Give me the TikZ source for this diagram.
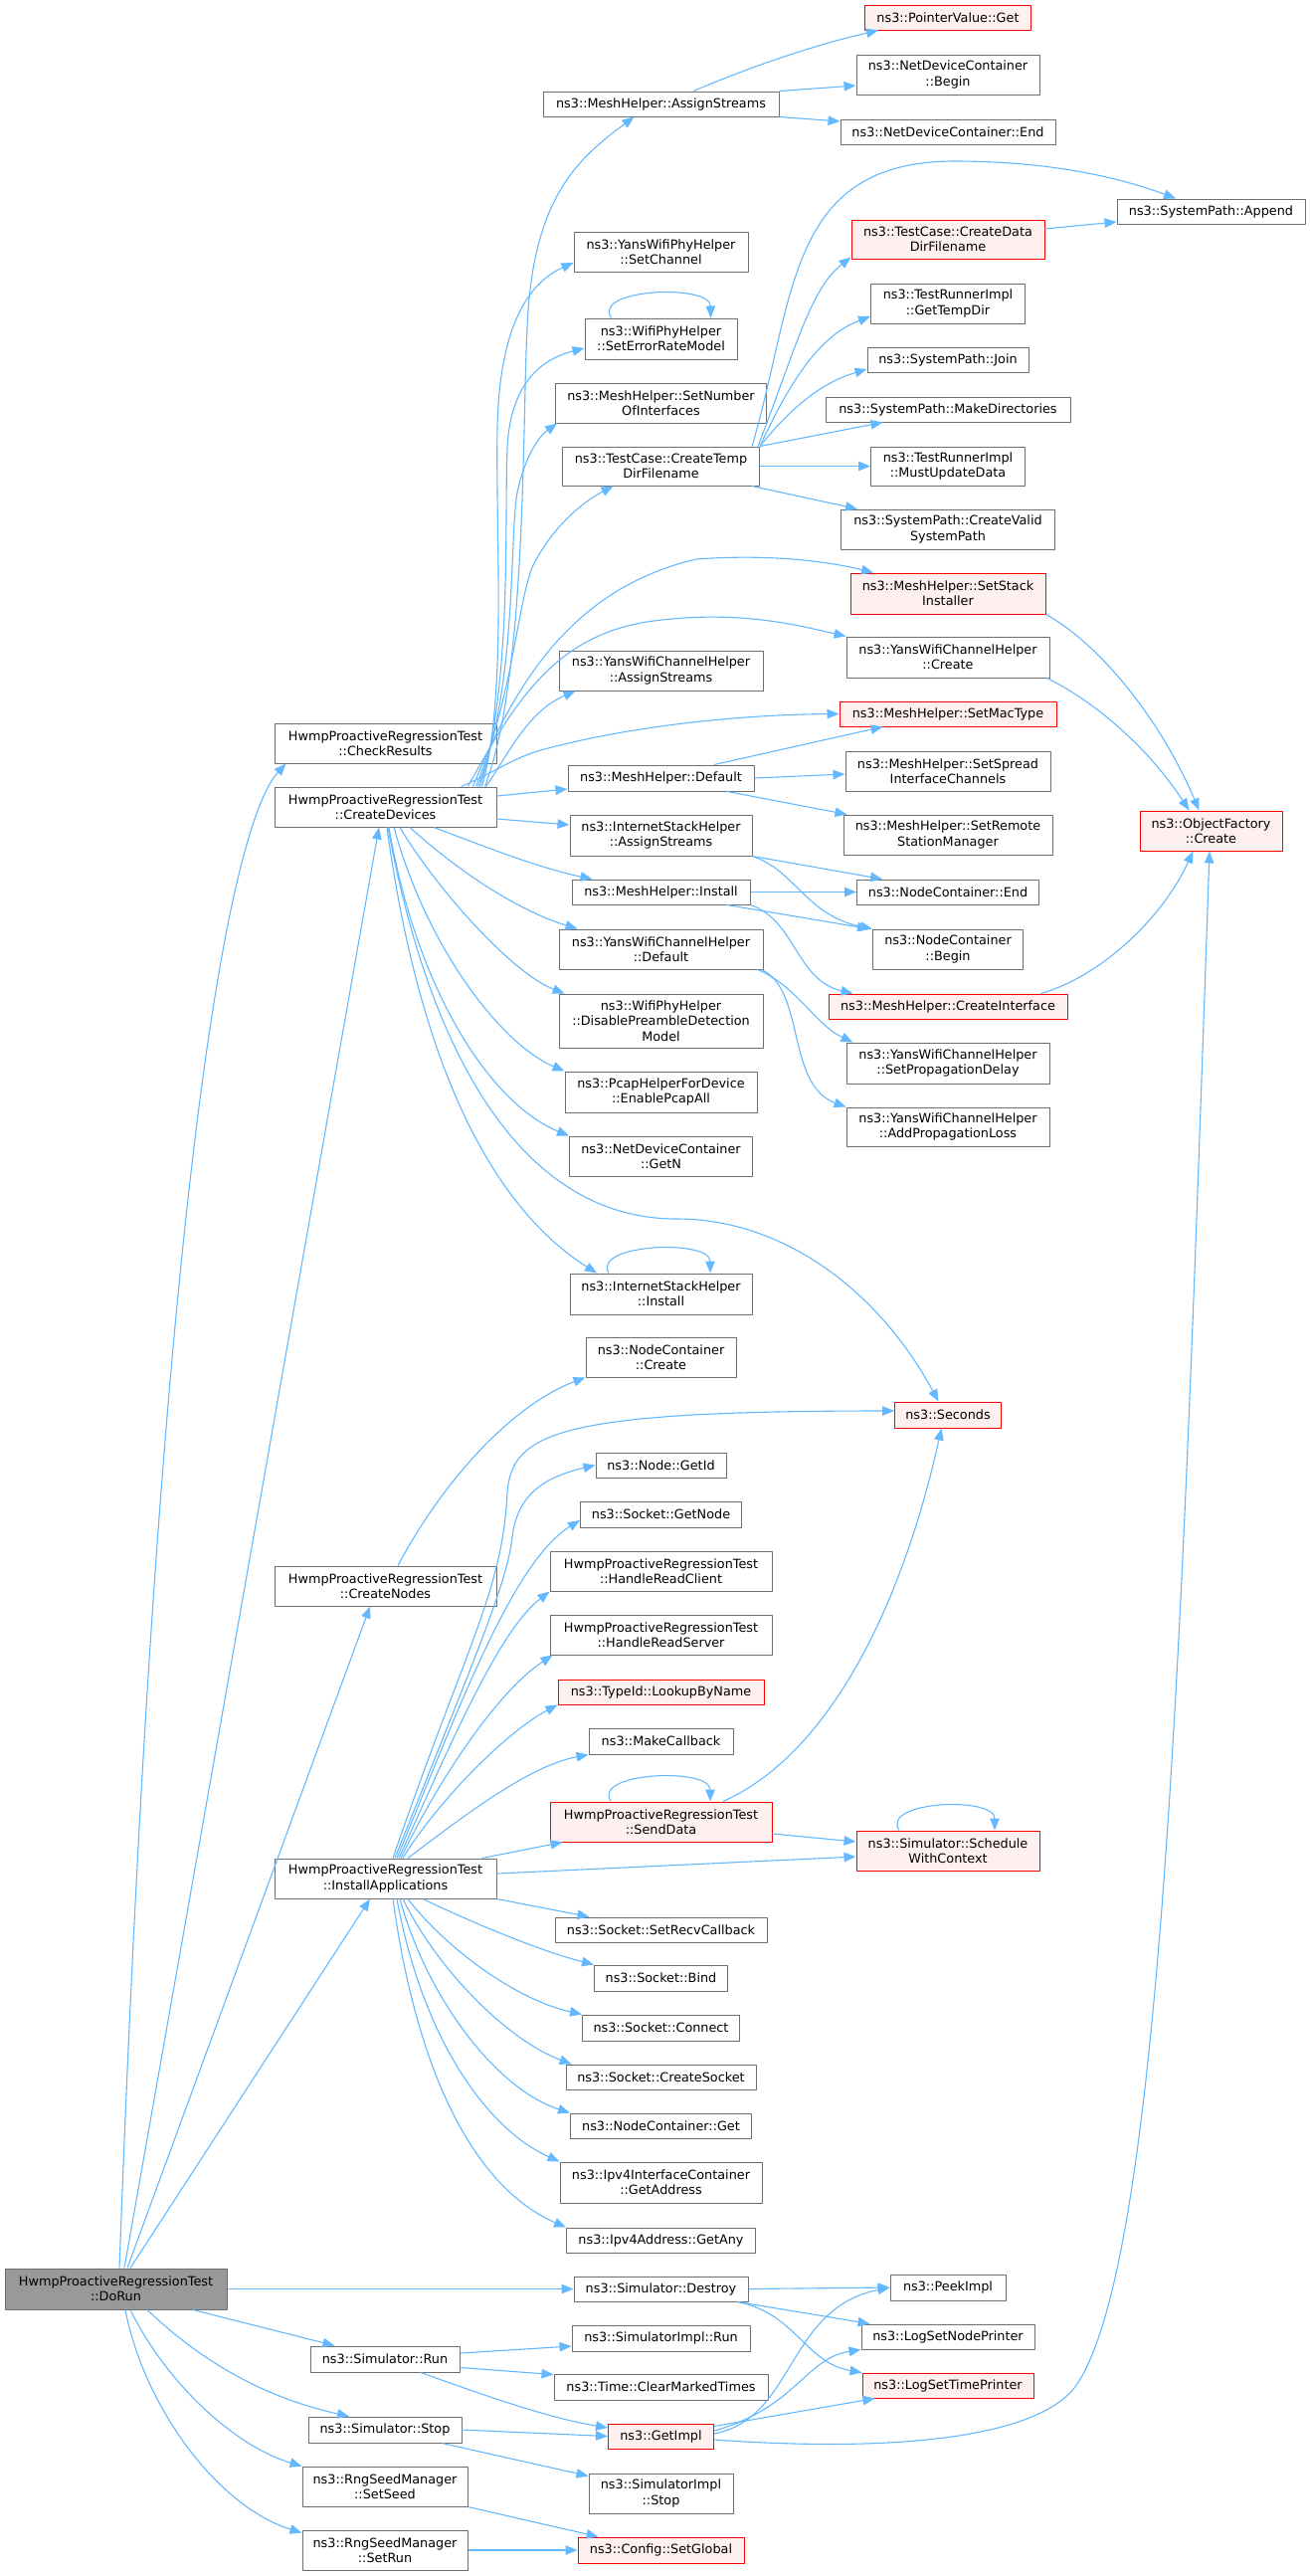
\documentclass[tikz,border=0pt]{standalone}
\usepackage{fontspec}
\usepackage{xcolor}
\usetikzlibrary{arrows.meta}
\newfontfamily\graphfont{DejaVu Sans}
\definecolor{edgeblue}{RGB}{99,184,255}
\definecolor{boxgray}{RGB}{110,110,110}
\definecolor{redfill}{RGB}{255,240,240}
\definecolor{rootgray}{RGB}{153,153,153}

\begin{document}
\begin{tikzpicture}[x=1pt, y=-1pt, line join=bevel,
        fnnode/.style={shape=rectangle, draw=boxgray, fill=white, line width=1pt, inner sep=0pt, align=center, font={\graphfont\fontsize{12.8}{15.3}\selectfont}},
        rednode/.style={fnnode, draw=red, fill=redfill},
        rootnode/.style={fnnode, fill=rootgray},
        call/.style={draw=edgeblue, line width=1.1pt, -{Triangle[length=12pt,width=9.5pt]}}]
        \useasboundingbox (0,0) rectangle (1317,2589);
        % Caller and its direct callees
        \node[rootnode, minimum width=223, minimum height=41] (doRun) at (116.5,2300.5) {HwmpProactiveRegressionTest\\::DoRun};
        \node[fnnode, minimum width=223, minimum height=40] (checkResults) at (387.5,747) {HwmpProactiveRegressionTest\\::CheckResults};
        \node[fnnode, minimum width=223, minimum height=40] (createDevices) at (387.5,811) {HwmpProactiveRegressionTest\\::CreateDevices};
        \node[fnnode, minimum width=223, minimum height=40] (createNodes) at (387.5,1594) {HwmpProactiveRegressionTest\\::CreateNodes};
        \node[fnnode, minimum width=223, minimum height=40] (installApps) at (387.5,1888) {HwmpProactiveRegressionTest\\::InstallApplications};
        \node[fnnode, minimum width=150, minimum height=26] (simRun) at (387,2371) {ns3::Simulator::Run};
        \node[fnnode, minimum width=154, minimum height=26] (simStop) at (387,2442) {ns3::Simulator::Stop};
        \node[fnnode, minimum width=166, minimum height=40] (setSeed) at (387,2499) {ns3::RngSeedManager\\::SetSeed};
        \node[fnnode, minimum width=166, minimum height=40] (setRun) at (387,2563) {ns3::RngSeedManager\\::SetRun};
        % Second level
        \node[fnnode, minimum width=237, minimum height=25] (meshAssign) at (664.5,104.5) {ns3::MeshHelper::AssignStreams};
        \node[fnnode, minimum width=175, minimum height=40] (setChannel) at (664.5,253) {ns3::YansWifiPhyHelper\\::SetChannel};
        \node[fnnode, minimum width=153, minimum height=41] (setErrorModel) at (664.5,340.5) {ns3::WifiPhyHelper\\::SetErrorRateModel};
        \node[fnnode, minimum width=212, minimum height=40] (setNumIfaces) at (664.5,405) {ns3::MeshHelper::SetNumber\\OfInterfaces};
        \node[fnnode, minimum width=198, minimum height=39] (createTempDir) at (664.5,468.5) {ns3::TestCase::CreateTemp\\DirFilename};
        \node[fnnode, minimum width=205, minimum height=40] (yansAssign) at (664.5,674) {ns3::YansWifiChannelHelper\\::AssignStreams};
        \node[fnnode, minimum width=187, minimum height=26] (meshDefault) at (664.5,782) {ns3::MeshHelper::Default};
        \node[fnnode, minimum width=183, minimum height=41] (inetAssign) at (664.5,839.5) {ns3::InternetStackHelper\\::AssignStreams};
        \node[fnnode, minimum width=179, minimum height=25] (meshInstall) at (664.5,896.5) {ns3::MeshHelper::Install};
        \node[fnnode, minimum width=205, minimum height=40] (yansDefault) at (664.5,954) {ns3::YansWifiChannelHelper\\::Default};
        \node[fnnode, minimum width=205, minimum height=54] (disablePreamble) at (664.5,1026) {ns3::WifiPhyHelper\\::DisablePreambleDetection\\Model};
        \node[fnnode, minimum width=193, minimum height=41] (enablePcap) at (664.5,1097.5) {ns3::PcapHelperForDevice\\::EnablePcapAll};
        \node[fnnode, minimum width=184, minimum height=40] (getN) at (664.5,1162) {ns3::NetDeviceContainer\\::GetN};
        \node[fnnode, minimum width=183, minimum height=41] (inetInstall) at (664.5,1300.5) {ns3::InternetStackHelper\\::Install};
        \node[fnnode, minimum width=151, minimum height=40] (nodesCreate) at (664.5,1364) {ns3::NodeContainer\\::Create};
        \node[fnnode, minimum width=131, minimum height=25] (getId) at (664.5,1472.5) {ns3::Node::GetId};
        \node[fnnode, minimum width=162, minimum height=26] (getNode) at (664.5,1522) {ns3::Socket::GetNode};
        \node[fnnode, minimum width=223, minimum height=40] (readClient) at (664.5,1579) {HwmpProactiveRegressionTest\\::HandleReadClient};
        \node[fnnode, minimum width=223, minimum height=40] (readServer) at (664.5,1643) {HwmpProactiveRegressionTest\\::HandleReadServer};
        \node[rednode, minimum width=207, minimum height=25] (lookupByName) at (664.5,1700.5) {ns3::TypeId::LookupByName};
        \node[fnnode, minimum width=145, minimum height=26] (makeCallback) at (664.5,1750) {ns3::MakeCallback};
        \node[rednode, minimum width=223, minimum height=40] (sendData) at (664.5,1831) {HwmpProactiveRegressionTest\\::SendData};
        \node[fnnode, minimum width=213, minimum height=25] (setRecvCb) at (664.5,1939.5) {ns3::Socket::SetRecvCallback};
        \node[fnnode, minimum width=134, minimum height=26] (bind) at (664.5,1988) {ns3::Socket::Bind};
        \node[fnnode, minimum width=158, minimum height=26] (connect) at (664.5,2038) {ns3::Socket::Connect};
        \node[fnnode, minimum width=191, minimum height=25] (createSocket) at (664.5,2087.5) {ns3::Socket::CreateSocket};
        \node[fnnode, minimum width=182, minimum height=25] (ncGet) at (664.5,2136.5) {ns3::NodeContainer::Get};
        \node[fnnode, minimum width=203, minimum height=41] (getAddress) at (664.5,2193.5) {ns3::Ipv4InterfaceContainer\\::GetAddress};
        \node[fnnode, minimum width=190, minimum height=25] (getAny) at (664.5,2251.5) {ns3::Ipv4Address::GetAny};
        \node[fnnode, minimum width=175, minimum height=25] (destroy) at (664.5,2300.5) {ns3::Simulator::Destroy};
        \node[fnnode, minimum width=179, minimum height=26] (implRun) at (664.5,2350) {ns3::SimulatorImpl::Run};
        \node[fnnode, minimum width=215, minimum height=26] (clearTimes) at (664.5,2399) {ns3::Time::ClearMarkedTimes};
        \node[rednode, minimum width=106, minimum height=25] (getImpl) at (664.5,2448.5) {ns3::GetImpl};
        \node[fnnode, minimum width=145, minimum height=40] (implStop) at (664.5,2506) {ns3::SimulatorImpl\\::Stop};
        \node[rednode, minimum width=167, minimum height=26] (setGlobal) at (664.5,2563) {ns3::Config::SetGlobal};
        % Third level
        \node[rednode, minimum width=167, minimum height=25] (pvGet) at (953,17.5) {ns3::PointerValue::Get};
        \node[fnnode, minimum width=184, minimum height=40] (ndcBegin) at (953,75) {ns3::NetDeviceContainer\\::Begin};
        \node[fnnode, minimum width=216, minimum height=25] (ndcEnd) at (953,132.5) {ns3::NetDeviceContainer::End};
        \node[rednode, minimum width=194, minimum height=39] (createDataDir) at (953,240.5) {ns3::TestCase::CreateData\\DirFilename};
        \node[fnnode, minimum width=155, minimum height=40] (getTempDir) at (953,305) {ns3::TestRunnerImpl\\::GetTempDir};
        \node[fnnode, minimum width=162, minimum height=25] (pathJoin) at (953,361.5) {ns3::SystemPath::Join};
        \node[fnnode, minimum width=246, minimum height=25] (makeDirs) at (953,411.5) {ns3::SystemPath::MakeDirectories};
        \node[fnnode, minimum width=155, minimum height=39] (mustUpdate) at (953,468.5) {ns3::TestRunnerImpl\\::MustUpdateData};
        \node[fnnode, minimum width=215, minimum height=40] (createValid) at (953,532) {ns3::SystemPath::CreateValid\\SystemPath};
        \node[rednode, minimum width=196, minimum height=41] (setStack) at (953,596.5) {ns3::MeshHelper::SetStack\\Installer};
        \node[fnnode, minimum width=204, minimum height=41] (yansCreate) at (953,660.5) {ns3::YansWifiChannelHelper\\::Create};
        \node[rednode, minimum width=218, minimum height=25] (setMacType) at (953,717.5) {ns3::MeshHelper::SetMacType};
        \node[fnnode, minimum width=206, minimum height=40] (setSpread) at (953,775) {ns3::MeshHelper::SetSpread\\InterfaceChannels};
        \node[fnnode, minimum width=210, minimum height=40] (setRemote) at (953,839) {ns3::MeshHelper::SetRemote\\StationManager};
        \node[fnnode, minimum width=183, minimum height=25] (ncEnd) at (953,896.5) {ns3::NodeContainer::End};
        \node[fnnode, minimum width=151, minimum height=40] (ncBegin) at (953,954) {ns3::NodeContainer\\::Begin};
        \node[rednode, minimum width=240, minimum height=25] (createIface) at (953,1011.5) {ns3::MeshHelper::CreateInterface};
        \node[fnnode, minimum width=204, minimum height=41] (setPropDelay) at (953,1068.5) {ns3::YansWifiChannelHelper\\::SetPropagationDelay};
        \node[fnnode, minimum width=204, minimum height=39] (addPropLoss) at (953,1132.5) {ns3::YansWifiChannelHelper\\::AddPropagationLoss};
        \node[rednode, minimum width=107, minimum height=26] (seconds) at (953,1422) {ns3::Seconds};
        \node[rednode, minimum width=184, minimum height=40] (schedule) at (953,1860) {ns3::Simulator::Schedule\\WithContext};
        \node[fnnode, minimum width=116, minimum height=26] (peekImpl) at (953,2299) {ns3::PeekImpl};
        \node[fnnode, minimum width=174, minimum height=25] (nodePrinter) at (953,2348.5) {ns3::LogSetNodePrinter};
        \node[rednode, minimum width=172, minimum height=25] (timePrinter) at (953,2397.5) {ns3::LogSetTimePrinter};
        % Fourth level
        \node[fnnode, minimum width=189, minimum height=25] (pathAppend) at (1217.5,212.5) {ns3::SystemPath::Append};
        \node[rednode, minimum width=143, minimum height=40] (objCreate) at (1217.5,835) {ns3::ObjectFactory\\::Create};
        % Calls from DoRun
        \draw[call] ([xshift=3.5]doRun.north) .. controls (160,1200) and (230,830) .. ([xshift=12]checkResults.south west);
        \draw[call] ([xshift=8.5]doRun.north) -- ([xshift=-6.5]createDevices.south);
        \draw[call] ([xshift=11.5]doRun.north) -- ([xshift=-15.5]createNodes.south);
        \draw[call] ([xshift=14.5]doRun.north) -- ([xshift=-15.5]installApps.south);
        \draw[call] (doRun.east) -- (destroy.west);
        \draw[call] ([xshift=77.5]doRun.south) -- ([xshift=25]simRun.north west);
        \draw[call] ([xshift=31.5]doRun.south) .. controls (220,2390) and (290,2415) .. ([xshift=-36]simStop.north);
        \draw[call] ([xshift=14.5]doRun.south) .. controls (170,2400) and (240,2460) .. (setSeed.north west);
        \draw[call] ([xshift=9.5]doRun.south) .. controls (145,2420) and (220,2520) .. ([yshift=-3]setRun.north west);
        % Calls from CreateDevices
        \draw[call] ([xshift=-12]createDevices.north east) .. controls (530,680) and (525,420) .. (530,330) .. controls (535,200) and (580,160) .. ([xshift=-27]meshAssign.south);
        \draw[call] ([xshift=-15]createDevices.north east) .. controls (510,700) and (498,540) .. (500,430) .. controls (502,330) and (530,285) .. ([yshift=-11]setChannel.west);
        \draw[call] ([xshift=-17]createDevices.north east) .. controls (515,690) and (507,520) .. (510,450) .. controls (513,390) and (540,362) .. ([yshift=-9.5]setErrorModel.west);
        \draw[call] ([xshift=-19]createDevices.north east) .. controls (520,690) and (512,540) .. (520,495) .. controls (527,462) and (540,440) .. ([xshift=2]setNumIfaces.south west);
        \draw[call] ([xshift=-21]createDevices.north east) .. controls (515,700) and (520,610) .. (535,570) .. controls (555,530) and (585,505) .. ([xshift=-48]createTempDir.south);
        \draw[call] ([xshift=-24]createDevices.north east) .. controls (520,680) and (580,590) .. (700,562) .. controls (780,556) and (840,566) .. ([xshift=-75]setStack.north);
        \draw[call] ([xshift=-29]createDevices.north east) .. controls (520,700) and (560,640) .. (650,625) .. controls (740,612) and (800,628) .. (yansCreate.north west);
        \draw[call] ([xshift=-11]createDevices.north east) .. controls (510,760) and (530,715) .. ([xshift=17]yansAssign.south west);
        \draw[call] ([xshift=-36]createDevices.north east) .. controls (500,775) and (510,765) .. (540,755) .. controls (640,727) and (760,718) .. (setMacType.west);
        \draw[call] ([yshift=11]createDevices.east) -- ([yshift=-11]meshDefault.west);
        \draw[call] ([yshift=-12]createDevices.east) -- ([yshift=10.5]inetAssign.west);
        \draw[call] ([xshift=48.5]createDevices.south) .. controls (480,848) and (540,872) .. ([xshift=21]meshInstall.north west);
        \draw[call] ([xshift=24.5]createDevices.south) .. controls (460,875) and (520,915) .. ([xshift=19]yansDefault.north west);
        \draw[call] ([xshift=14.5]createDevices.south) .. controls (440,895) and (515,978) .. ([xshift=6]disablePreamble.north west);
        \draw[call] ([xshift=8.5]createDevices.south) .. controls (430,955) and (505,1050) .. (enablePcap.north west);
        \draw[call] ([xshift=3.5]createDevices.south) .. controls (420,1000) and (495,1110) .. (getN.north west);
        \draw[call] ([xshift=2.5]createDevices.south) .. controls (430,1050) and (520,1225) .. (680,1225) .. controls (790,1225) and (885,1300) .. ([xshift=-9.5]seconds.north);
        \draw[call] ([xshift=1.5]createDevices.south) .. controls (420,1060) and (490,1210) .. ([xshift=-64.5]inetInstall.north);
        % MeshHelper::AssignStreams
        \draw[call] ([xshift=32.5]meshAssign.north) .. controls (760,65) and (820,45) .. ([xshift=14]pvGet.south west);
        \draw[call] (meshAssign.north east) -- ([yshift=-11]ndcBegin.west);
        \draw[call] (meshAssign.south east) -- ([yshift=10.5]ndcEnd.west);
        \draw[call] ([xshift=-50]setErrorModel.north) .. controls (595,290) and (714,285) .. ([xshift=50]setErrorModel.north);
        % TestCase::CreateTempDirFilename
        \draw[call] ([xshift=-8]createTempDir.north east) .. controls (800,300) and (790,162) .. (960,162) .. controls (1060,162) and (1130,180) .. ([xshift=-35.5]pathAppend.north);
        \draw[call] ([xshift=-2]createTempDir.north east) .. controls (800,350) and (815,290) .. ([yshift=2]createDataDir.south west);
        \draw[call] (createTempDir.north east) .. controls (800,370) and (830,335) .. ([yshift=-13]getTempDir.west);
        \draw[call] (createTempDir.north east) .. controls (795,410) and (825,385) .. ([yshift=-9.5]pathJoin.west);
        \draw[call] (createTempDir.north east) -- ([xshift=58]makeDirs.south west);
        \draw[call] (createTempDir.east) -- (mustUpdate.west);
        \draw[call] ([xshift=-8]createTempDir.south east) -- ([xshift=17]createValid.north west);
        \draw[call] ([yshift=10.5]createDataDir.east) -- ([yshift=-10.5]pathAppend.west);
        % ObjectFactory::Create
        \draw[call] (setStack.south east) .. controls (1110,650) and (1170,730) .. ([xshift=-12]objCreate.north);
        \draw[call] ([xshift=-3]yansCreate.south east) .. controls (1110,710) and (1160,760) .. ([xshift=-22]objCreate.north);
        \draw[call] ([xshift=-27]createIface.north east) .. controls (1110,980) and (1170,920) .. ([xshift=-18]objCreate.south);
        \draw[call] ([yshift=-3.5]getImpl.east) .. controls (900,2465) and (1040,2450) .. (1080,2400) .. controls (1170,2280) and (1190,1600) .. ([xshift=-1.5]objCreate.south);
        % Mesh and channel helpers
        \draw[call] ([xshift=53.5]meshDefault.north) -- ([xshift=44]setMacType.south west);
        \draw[call] (meshDefault.east) -- ([yshift=-3]setSpread.west);
        \draw[call] ([xshift=66.5]meshDefault.south) -- ([xshift=4]setRemote.north west);
        \draw[call] (inetAssign.south east) -- ([xshift=26]ncEnd.north west);
        \draw[call] (inetAssign.south east) .. controls (800,875) and (810,920) .. (ncBegin.north west);
        \draw[call] (meshInstall.east) -- (ncEnd.west);
        \draw[call] ([xshift=66.5]meshInstall.south) -- ([xshift=-3]ncBegin.north west);
        \draw[call] (meshInstall.south east) .. controls (800,925) and (800,985) .. ([xshift=25]createIface.north west);
        \draw[call] ([xshift=-6]yansDefault.south east) .. controls (800,990) and (820,1030) .. ([xshift=7]setPropDelay.north west);
        \draw[call] ([xshift=-2]yansDefault.south east) .. controls (810,995) and (790,1090) .. (addPropLoss.north west);
        \draw[call] ([xshift=-52.5]inetInstall.north) .. controls (595,1250) and (714,1245) .. ([xshift=49.5]inetInstall.north);
        \draw[call] ([xshift=12.5]createNodes.north) .. controls (450,1480) and (520,1410) .. (nodesCreate.south west);
        % Calls from InstallApplications
        \draw[call] ([xshift=7.5]installApps.north) .. controls (470,1650) and (505,1600) .. (510,1500) .. controls (515,1440) and (560,1418) .. ([yshift=4]seconds.west);
        \draw[call] ([xshift=9.5]installApps.north) .. controls (480,1660) and (510,1590) .. (515,1545) .. controls (520,1500) and (550,1484) .. (getId.west);
        \draw[call] ([xshift=11.5]installApps.north) .. controls (460,1720) and (515,1570) .. ([yshift=-6]getNode.west);
        \draw[call] ([xshift=13.5]installApps.north) .. controls (450,1760) and (500,1640) .. (readClient.south west);
        \draw[call] ([xshift=15.5]installApps.north) .. controls (440,1790) and (500,1700) .. ([xshift=3]readServer.south west);
        \draw[call] ([xshift=17.5]installApps.north) .. controls (440,1810) and (510,1740) .. (lookupByName.south west);
        \draw[call] ([xshift=22.5]installApps.north) .. controls (460,1830) and (530,1775) .. (makeCallback.south west);
        \draw[call] ([xshift=-15]installApps.north east) -- ([xshift=13]sendData.south west);
        \draw[call] ([yshift=5]installApps.east) -- ([yshift=-6]schedule.west);
        \draw[call] (installApps.south east) -- ([xshift=35]setRecvCb.north west);
        \draw[call] ([xshift=37.5]installApps.south) .. controls (470,1930) and (540,1960) .. (bind.north west);
        \draw[call] ([xshift=22.5]installApps.south) .. controls (450,1960) and (520,2010) .. (connect.north west);
        \draw[call] ([xshift=17.5]installApps.south) .. controls (440,1980) and (510,2050) .. ([xshift=6]createSocket.north west);
        \draw[call] ([xshift=14.5]installApps.south) .. controls (430,2010) and (500,2100) .. (ncGet.north west);
        \draw[call] ([xshift=11.5]installApps.south) .. controls (425,2050) and (490,2140) .. (getAddress.north west);
        \draw[call] ([xshift=7.5]installApps.south) .. controls (420,2090) and (480,2200) .. (getAny.north west);
        % SendData
        \draw[call] ([xshift=62.5]sendData.north) .. controls (840,1760) and (910,1600) .. ([xshift=-6.5]seconds.south);
        \draw[call] ([yshift=-12]sendData.east) -- ([yshift=9]schedule.west);
        \draw[call] ([xshift=-50.5]sendData.north) .. controls (595,1781) and (714,1776) .. ([xshift=49.5]sendData.north);
        \draw[call] ([xshift=-49]schedule.north) .. controls (885,1810) and (1000,1805) .. ([xshift=47]schedule.north);
        % Simulator
        \draw[call] (destroy.east) -- (peekImpl.west);
        \draw[call] ([xshift=-11]destroy.south east) -- ([xshift=9]nodePrinter.north west);
        \draw[call] ([xshift=-11]destroy.south east) .. controls (800,2325) and (810,2375) .. (timePrinter.north west);
        \draw[call] ([yshift=6]simRun.east) -- ([yshift=-8]implRun.west);
        \draw[call] ([yshift=5]simRun.south east) -- ([yshift=-1]clearTimes.north west);
        \draw[call] ([xshift=36]simRun.south) .. controls (480,2405) and (550,2430) .. ([yshift=8.5]getImpl.west);
        \draw[call] (simStop.east) -- (getImpl.west);
        \draw[call] ([xshift=-20]simStop.south east) -- ([yshift=-3]implStop.north west);
        \draw[call] ([yshift=2.5]getImpl.east) .. controls (800,2430) and (790,2320) .. (peekImpl.west);
        \draw[call] ([yshift=5.5]getImpl.east) .. controls (800,2420) and (810,2370) .. (nodePrinter.south west);
        \draw[call] ([yshift=-3]getImpl.north east) -- ([xshift=13]timePrinter.south west);
        \draw[call] (setSeed.south east) -- ([xshift=21]setGlobal.north west);
        \draw[call] (setRun.east) -- (setGlobal.west);
\end{tikzpicture}
\end{document}
